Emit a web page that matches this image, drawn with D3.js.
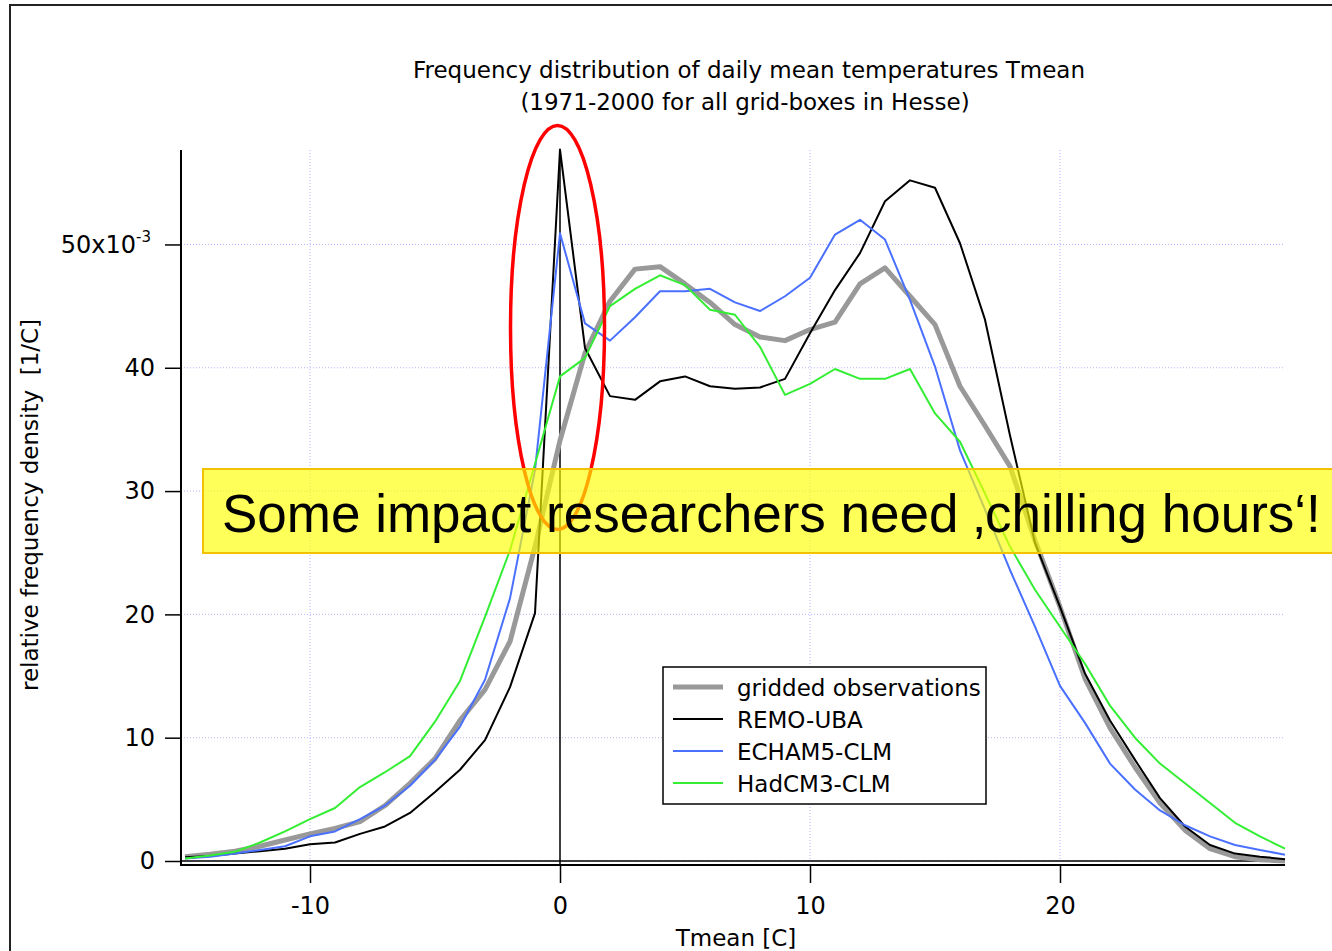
<!DOCTYPE html>
<html lang="en">
<head>
	<meta charset="utf-8">
	<title>Tmean frequency distribution</title>
	<script type="text/javascript" src="https://cdn.jsdelivr.net/npm/d3@7/dist/d3.min.js"></script>
	<style>
		body { margin: 0; background: white; }
		svg { display: block; font-family: "DejaVu Sans", sans-serif; }
		.grid line { stroke: #b4b4ff; stroke-width: 1; stroke-dasharray: 1,2; }
		.axis text { font-size: 24px; fill: black; font-family: "DejaVu Sans", sans-serif; }
		.axis line { stroke: black; stroke-width: 1.5; }
		.banner { font-family: "Liberation Sans", Arial, sans-serif; }
	</style>
</head>

<body>
	<script type="text/javascript">
		var w = 1332;
		var h = 951;

		// temperature bins [C]
		var tmean = [-15, -14, -13, -12, -11, -10, -9, -8, -7, -6, -5, -4, -3, -2, -1,
			0, 1, 2, 3, 4, 5, 6, 7, 8, 9, 10, 11, 12, 13, 14,
			15, 16, 17, 18, 19, 20, 21, 22, 23, 24, 25, 26, 27, 28, 29];

		// relative frequency density, x10^-3 [1/C]
		var observed = [0.35, 0.55, 0.8, 1.2, 1.7, 2.2, 2.65, 3.2, 4.5, 6.3, 8.3, 11.4, 13.9, 17.8, 25.5,
			34.1, 41.2, 45.4, 48.0, 48.2, 46.8, 45.3, 43.5, 42.5, 42.2, 43.1, 43.7, 46.8, 48.1, 45.8,
			43.5, 38.5, 35.3, 32.0, 26.0, 20.6, 14.8, 10.8, 7.6, 4.7, 2.5, 1.0, 0.35, 0.1, 0.0];
		var remo = [0.3, 0.4, 0.6, 0.8, 1.0, 1.35, 1.5, 2.2, 2.8, 3.9, 5.6, 7.4, 9.8, 14.1, 20.1,
			57.7, 41.6, 37.7, 37.4, 38.9, 39.3, 38.5, 38.3, 38.4, 39.1, 42.8, 46.3, 49.3, 53.5, 55.2,
			54.6, 50.1, 43.9, 34.5, 25.8, 20.6, 15.2, 11.4, 8.2, 5.1, 2.8, 1.3, 0.6, 0.35, 0.15];
		var echam = [0.2, 0.35, 0.6, 0.9, 1.2, 2.0, 2.4, 3.4, 4.5, 6.1, 8.2, 10.9, 14.7, 21.3, 31.7,
			50.9, 43.6, 42.2, 44.1, 46.2, 46.2, 46.4, 45.3, 44.6, 45.8, 47.3, 50.8, 52.0, 50.4, 45.5,
			40.1, 33.3, 28.5, 23.6, 19.0, 14.2, 11.2, 7.9, 5.8, 4.1, 2.9, 2.0, 1.3, 0.9, 0.5];
		var hadcm = [0.2, 0.45, 0.75, 1.5, 2.4, 3.4, 4.3, 6.0, 7.2, 8.5, 11.3, 14.6, 19.8, 25.2, 32.2,
			39.3, 40.8, 45.0, 46.4, 47.5, 46.7, 44.7, 44.3, 41.7, 37.8, 38.7, 39.9, 39.1, 39.1, 39.9,
			36.3, 34.0, 29.8, 25.5, 22.0, 19.0, 16.0, 12.6, 10.0, 7.9, 6.3, 4.7, 3.1, 2.0, 1.0];

		var seriesNames = ["gridded observations", "REMO-UBA", "ECHAM5-CLM", "HadCM3-CLM"];
		var seriesColors = ["#999999", "#000000", "#4a70ff", "#33ee33"];
		var seriesWidths = [5, 2, 2, 2];
		var seriesValues = [observed, remo, echam, hadcm];

		var xTicks = [-10, 0, 10, 20];
		var yTicks = [0, 10, 20, 30, 40, 50];
		var titleLines = ["Frequency distribution of daily mean temperatures Tmean",
			"(1971-2000 for all grid-boxes in Hesse)"];

		var x = d3.scaleLinear().domain([-15.16, 29]).range([181, 1285]);
		var y = d3.scaleLinear().domain([0, 57.66]).range([861, 150]);
		var axisY = 865;

		var svg = d3.select("body")
					.append("svg")
					.attr("width", w)
					.attr("height", h);

		// outer frame of the slide picture
		svg.append("rect")
		   .attr("x", 10).attr("y", 5)
		   .attr("width", w + 20).attr("height", h + 20)
		   .attr("fill", "none")
		   .attr("stroke", "#222").attr("stroke-width", 2);

		// title
		svg.selectAll(".title")
		   .data(titleLines)
		   .enter()
		   .append("text")
		   .attr("class", "title")
		   .attr("x", function(d, i) { return i == 0 ? 749 : 745; })
		   .attr("y", function(d, i) { return 78 + i * 32; })
		   .attr("text-anchor", "middle")
		   .attr("font-size", 23)
		   .text(function(d) { return d; });

		// dotted grid
		var grid = svg.append("g").attr("class", "grid");
		grid.selectAll(".vg")
			.data(xTicks)
			.enter()
			.append("line")
			.attr("x1", function(d) { return x(d); })
			.attr("x2", function(d) { return x(d); })
			.attr("y1", y.range()[1])
			.attr("y2", y(0));
		grid.selectAll(".hg")
			.data(yTicks)
			.enter()
			.append("line")
			.attr("x1", x.range()[0])
			.attr("x2", x.range()[1])
			.attr("y1", function(d) { return y(d); })
			.attr("y2", function(d) { return y(d); });

		// zero lines
		svg.append("line")
		   .attr("x1", x.range()[0]).attr("x2", x.range()[1])
		   .attr("y1", y(0)).attr("y2", y(0))
		   .attr("stroke", "black").attr("stroke-width", 1.5);
		svg.append("line")
		   .attr("x1", x(0)).attr("x2", x(0))
		   .attr("y1", y.range()[1]).attr("y2", axisY)
		   .attr("stroke", "black").attr("stroke-width", 1.5);

		// axes (plain hyphen for negatives, as in the original)
		var xAxis = d3.axisBottom(x)
					  .tickValues(xTicks)
					  .tickSize(18)
					  .tickSizeOuter(0)
					  .tickPadding(14)
					  .tickFormat(function(d) { return String(d); });
		svg.append("g")
		   .attr("class", "axis")
		   .attr("transform", "translate(0," + axisY + ")")
		   .call(xAxis)
		   .select(".domain").remove();

		var yAxis = d3.axisLeft(y)
					  .tickValues(yTicks)
					  .tickSize(16)
					  .tickSizeOuter(0)
					  .tickPadding(10)
					  .tickFormat(function(d) { return d == 50 ? "50x10" : d; });
		var yg = svg.append("g")
		   .attr("class", "axis")
		   .attr("transform", "translate(" + x.range()[0] + ",0)")
		   .call(yAxis);
		yg.select(".domain").remove();
		yg.selectAll(".tick text")
		  .filter(function(d) { return d == 50; })
		  .attr("dx", "-4")
		  .append("tspan")
		  .attr("dy", "-0.7em")
		  .attr("font-size", 15)
		  .text("-3");

		svg.append("line")
		   .attr("x1", x.range()[0]).attr("x2", x.range()[1])
		   .attr("y1", axisY).attr("y2", axisY)
		   .attr("stroke", "black").attr("stroke-width", 2);
		svg.append("line")
		   .attr("x1", x.range()[0]).attr("x2", x.range()[0])
		   .attr("y1", y.range()[1]).attr("y2", axisY + 1)
		   .attr("stroke", "black").attr("stroke-width", 2);

		// axis titles
		svg.append("text")
		   .attr("x", 736).attr("y", 946)
		   .attr("text-anchor", "middle")
		   .attr("font-size", 23)
		   .text("Tmean [C]");
		svg.append("text")
		   .attr("transform", "translate(38,505) rotate(-90)")
		   .attr("text-anchor", "middle")
		   .attr("font-size", 23)
		   .attr("xml:space", "preserve")
		   .text("relative frequency density  [1/C]");

		// curves, drawn back to front
		var line = d3.line()
					 .x(function(d, i) { return x(tmean[i]); })
					 .y(function(d) { return y(d); });
		svg.selectAll(".series")
		   .data(seriesValues)
		   .enter()
		   .append("path")
		   .attr("class", "series")
		   .attr("d", line)
		   .attr("fill", "none")
		   .attr("stroke", function(d, i) { return seriesColors[i]; })
		   .attr("stroke-width", function(d, i) { return seriesWidths[i]; })
		   .attr("stroke-linejoin", "round");

		// legend
		var legend = svg.append("g").attr("transform", "translate(663,667)");
		legend.append("rect")
			  .attr("width", 323).attr("height", 137)
			  .attr("fill", "white")
			  .attr("stroke", "black").attr("stroke-width", 1.5);
		var rows = legend.selectAll(".row")
						 .data(seriesNames)
						 .enter()
						 .append("g")
						 .attr("transform", function(d, i) { return "translate(0," + (20 + i * 32) + ")"; });
		rows.append("line")
			.attr("x1", 10).attr("x2", 60)
			.attr("stroke", function(d, i) { return seriesColors[i]; })
			.attr("stroke-width", function(d, i) { return seriesWidths[i]; });
		rows.append("text")
			.attr("x", 74).attr("y", 9)
			.attr("font-size", 23)
			.text(function(d) { return d; });

		// highlight of the 0 C peak
		svg.append("ellipse")
		   .attr("cx", 557.5).attr("cy", 327.5)
		   .attr("rx", 47).attr("ry", 202)
		   .attr("fill", "none")
		   .attr("stroke", "#ff0000").attr("stroke-width", 3.5);

		// callout banner
		svg.append("rect")
		   .attr("x", 203).attr("y", 469)
		   .attr("width", 1200).attr("height", 84)
		   .attr("fill", "#ffff00").attr("fill-opacity", 0.65)
		   .attr("stroke", "#f2c200").attr("stroke-width", 2);
		svg.append("text")
		   .attr("class", "banner")
		   .attr("x", 222).attr("y", 532)
		   .attr("font-size", 53)
		   .text("Some impact researchers need \u201Achilling hours\u2018!");
	</script>
</body>
</html>
